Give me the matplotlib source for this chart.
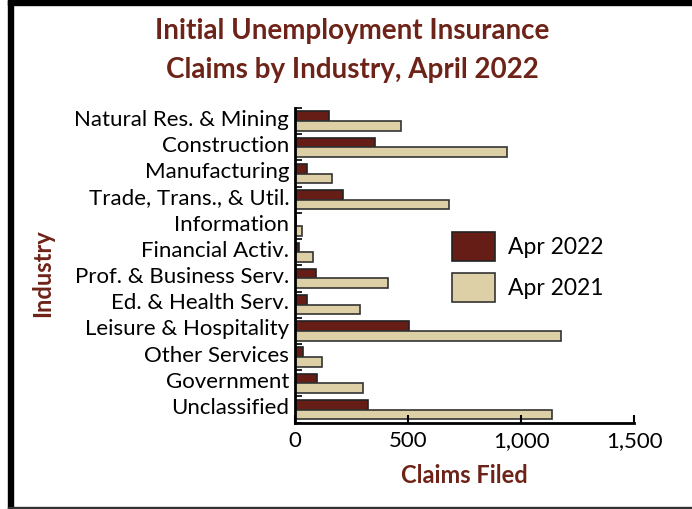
import matplotlib.pyplot as plt
import matplotlib.transforms as mtransforms
import numpy as np
from matplotlib.patches import Rectangle, Patch
from matplotlib.ticker import FuncFormatter

plt.rcParams["font.family"] = ["Lato", "DejaVu Sans"]

industries = [
    "Natural Res. & Mining",
    "Construction",
    "Manufacturing",
    "Trade, Trans., & Util.",
    "Information",
    "Financial Activ.",
    "Prof. & Business Serv.",
    "Ed. & Health Serv.",
    "Leisure & Hospitality",
    "Other Services",
    "Government",
    "Unclassified",
]
claims_2022 = [153, 355, 56, 215, 7, 20, 93, 53, 503, 35, 98, 322]
claims_2021 = [471, 939, 163, 683, 32, 79, 411, 288, 1175, 122, 302, 1136]

DARK = "#661d15"
TAN = "#ddd0a7"
TITLE = "#6e2318"

fig = plt.figure(figsize=(6.92, 5.09), dpi=100)
ax = fig.add_axes([0.4259, 0.1696, 0.4907, 0.6182])

y = np.arange(len(industries))
h = 0.37
ax.barh(y - h / 2, claims_2022, height=h, color=DARK, edgecolor="#222222", linewidth=1.2, label="Apr 2022")
ax.barh(y + h / 2, claims_2021, height=h, color=TAN, edgecolor="#333333", linewidth=1.2, label="Apr 2021")

ax.set_ylim(len(industries) - 0.5, -0.5)
ax.set_xlim(0, 1500)
ax.set_xticks([0, 500, 1000, 1500])
ax.xaxis.set_major_formatter(FuncFormatter(lambda v, _: f"{int(v):,}"))
ax.set_yticks(y)
ax.set_yticklabels(industries, fontsize=16)
ax.set_yticks(np.arange(len(industries) + 1) - 0.5, minor=True)
ax.tick_params(axis="y", which="major", length=0, pad=4)
ax.tick_params(axis="y", which="minor", direction="in", length=5, width=1.2)
ax.tick_params(axis="x", direction="in", length=6, width=1.5, labelsize=16, pad=6)

# category names sit a little above the middle of each bar pair
shift = mtransforms.ScaledTranslation(0, 3.5 / 100, fig.dpi_scale_trans)
for lbl in ax.get_yticklabels():
    lbl.set_transform(lbl.get_transform() + shift)

for side in ("top", "right"):
    ax.spines[side].set_visible(False)
for side in ("left", "bottom"):
    ax.spines[side].set_linewidth(2)
    ax.spines[side].set_color("black")

ax.set_xlabel("Claims Filed", fontsize=17, fontweight="bold", color=TITLE, labelpad=9)
fig.text(0.062, 0.464, "Industry", rotation=90, fontsize=17, fontweight="bold",
         color=TITLE, ha="center", va="center")

fig.text(0.509, 0.94, "Initial Unemployment Insurance", fontsize=20, fontweight="bold",
         color=TITLE, ha="center", va="center")
fig.text(0.509, 0.862, "Claims by Industry, April 2022", fontsize=20, fontweight="bold",
         color=TITLE, ha="center", va="center")

handles = [Patch(facecolor=DARK, edgecolor="#222222", linewidth=1.2),
           Patch(facecolor=TAN, edgecolor="#333333", linewidth=1.2)]
fig.legend(handles, ["Apr 2022", "Apr 2021"], loc="center left",
           bbox_to_anchor=(0.623, 0.475), frameon=False, fontsize=16.5,
           handlelength=1.9, handleheight=1.6, labelspacing=0.5, handletextpad=0.55)

# frame around the chart
fig.patches.append(Rectangle((8 / 692, 0), 5 / 692, 1, transform=fig.transFigure,
                             color="black", zorder=5))
fig.patches.append(Rectangle((8 / 692, 1 - 5 / 509), 1, 5 / 509, transform=fig.transFigure,
                             color="black", zorder=5))
fig.patches.append(Rectangle((8 / 692, 0.5 / 509), 1, 2 / 509, transform=fig.transFigure,
                             color="#333333", zorder=5))

fig.savefig("out.png", dpi=100)
